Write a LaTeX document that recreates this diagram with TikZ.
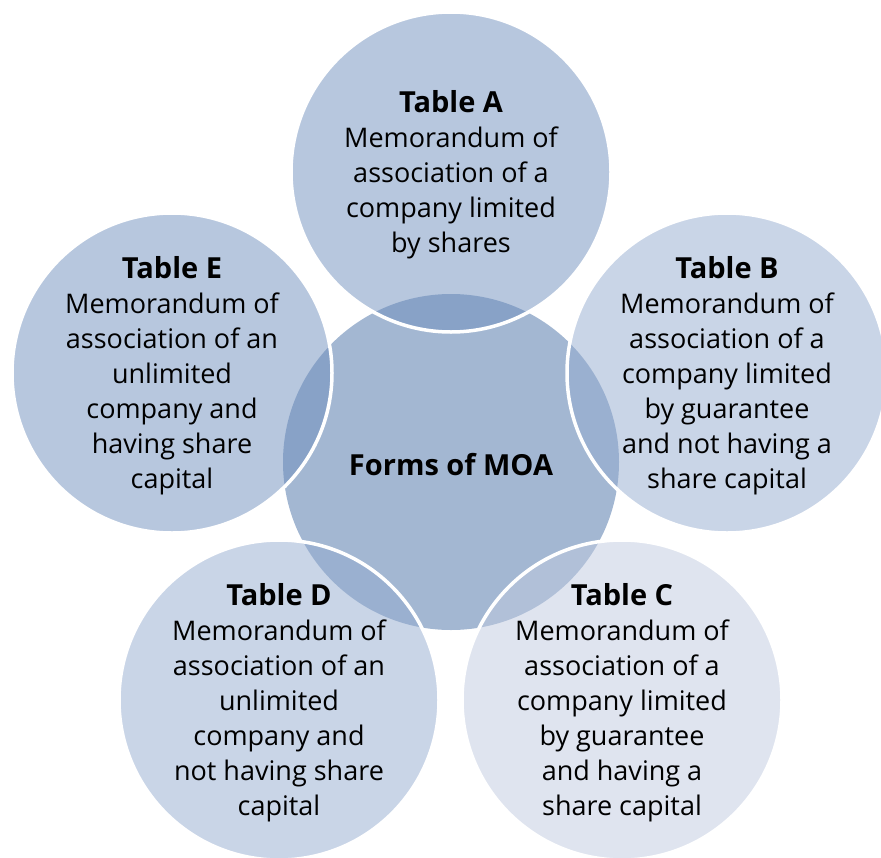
\documentclass[tikz,border=0pt]{standalone}
\usepackage{fontspec}
\setmainfont{Open Sans}
\definecolor{ctr}{RGB}{163,183,210}
\definecolor{dk}{RGB}{111,143,189}
\definecolor{md}{RGB}{147,171,207}
\definecolor{lt}{RGB}{191,201,223}
\newcommand{\ttl}[1]{{\fontsize{29}{35}\selectfont\bfseries #1}}
\begin{document}
\begin{tikzpicture}[x=1pt,y=-1pt,
  hub/.style={circle,fill=ctr,minimum size=336pt,inner sep=0pt},
  petal/.style={circle,fill=#1,fill opacity=0.5,draw=white,draw opacity=1,
    line width=3.5pt,minimum size=320pt,inner sep=0pt},
  txt/.style={align=center,inner sep=0pt,yshift=-3pt,font=\fontsize{27}{35}\selectfont}]
\useasboundingbox (0,0) rectangle (881,857);
\node[hub] (c) at (451,462) {};
\node[petal=dk] (a) at (451,172) {};
\node[petal=md] (b) at (727,373) {};
\node[petal=lt] (cc) at (622,700) {};
\node[petal=md] (d) at (279,700) {};
\node[petal=dk] (e) at (172,373) {};
\node[txt] (tc) at (c.center) {\ttl{Forms of MOA}};
\node[txt] (ta) at (a.center) {\ttl{Table A}\\Memorandum of\\association of a\\company limited\\by shares};
\node[txt] (tb) at (b.center) {\ttl{Table B}\\Memorandum of\\association of a\\company limited\\by guarantee\\and not having a\\share capital};
\node[txt] (tcc) at (cc.center) {\ttl{Table C}\\Memorandum of\\association of a\\company limited\\by guarantee\\and having a\\share capital};
\node[txt] (td) at (d.center) {\ttl{Table D}\\Memorandum of\\association of an\\unlimited\\company and\\not having share\\capital};
\node[txt] (te) at (e.center) {\ttl{Table E}\\Memorandum of\\association of an\\unlimited\\company and\\having share\\capital};
\end{tikzpicture}
\end{document}
